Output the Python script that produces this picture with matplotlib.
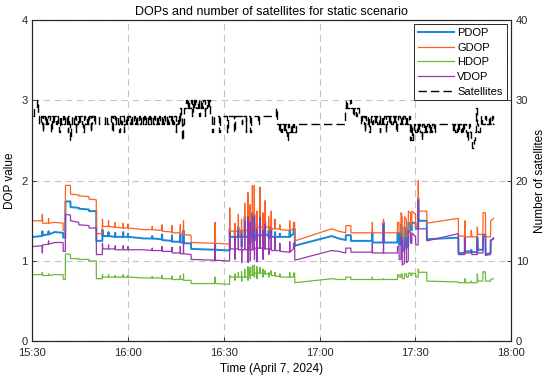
import matplotlib
matplotlib.use("Agg")
import matplotlib.pyplot as plt
import matplotlib.dates as mdates
import pandas as pd

plt.rcParams['font.family'] = ['Liberation Sans', 'DejaVu Sans']
plt.rcParams['font.size'] = 8

start = pd.Timestamp("2024-04-07 15:30")

# DOP samples: minutes after 15:30 and the four DOP values
dop_t = [0.3, 3.0, 3.1, 3.2, 5.0, 5.05, 5.1, 7.0, 9.6, 9.65,
         10.3, 10.35, 11.9, 11.95, 14.5, 14.55, 17.7, 17.75, 20.0, 20.05,
         21.9, 21.95, 22.05, 23.8, 23.85, 23.9, 25.9, 25.95, 26.0, 28.4,
         28.45, 28.5, 29.9, 29.95, 30.0, 35.0, 37.5, 37.55, 37.6, 40.6,
         40.65, 40.7, 43.7, 43.75, 43.8, 46.3, 46.35, 46.4, 47.3, 47.35,
         47.4, 49.7, 49.75, 57.2, 57.25, 57.3, 61.8, 61.85, 61.9, 63.4,
         63.45, 63.5, 63.55, 64.5, 64.55, 64.6, 65.5, 65.55, 65.6, 65.65,
         66.5, 66.55, 66.6, 67.5, 67.55, 67.6, 67.65, 68.2, 68.25, 68.3,
         68.35, 68.9, 68.95, 69.0, 69.5, 69.55, 69.6, 69.65, 70.3, 70.35,
         70.4, 70.45, 71.3, 71.35, 71.4, 72.2, 72.25, 72.3, 72.35, 72.9,
         72.95, 73.0, 74.0, 74.05, 74.1, 74.15, 74.8, 74.85, 74.9, 76.0,
         76.05, 76.1, 77.5, 77.55, 77.6, 80.6, 80.65, 80.7, 81.8, 81.85,
         82.2, 82.25, 93.8, 96.0, 98.2, 98.25, 99.8, 99.85, 106.5, 106.55,
         106.6, 110.0, 110.05, 110.1, 114.4, 114.45, 114.9, 114.95, 115.5, 115.55,
         115.9, 115.95, 116.6, 116.65, 117.2, 117.25, 117.8, 117.85, 118.5, 118.55,
         118.9, 118.95, 120.1, 120.15, 120.9, 120.95, 121.05, 123.6, 123.65, 133.5,
         133.55, 135.5, 135.55, 135.6, 137.5, 137.55, 137.8, 139.4, 139.45, 139.6,
         141.2, 141.25, 142.0, 142.05, 143.6, 143.65, 144.5]
gdop = [1.50, 1.50, 1.58, 1.47, 1.47, 1.53, 1.47, 1.48, 1.47, 1.38,
        1.38, 1.94, 1.94, 1.83, 1.82, 1.81, 1.80, 1.77, 1.76, 1.34,
        1.34, 1.52, 1.43, 1.43, 1.50, 1.43, 1.42, 1.48, 1.42, 1.41,
        1.47, 1.41, 1.41, 1.46, 1.41, 1.39, 1.39, 1.43, 1.39, 1.38,
        1.45, 1.37, 1.36, 1.44, 1.35, 1.35, 1.45, 1.34, 1.34, 1.50,
        1.33, 1.32, 1.23, 1.22, 1.48, 1.22, 1.21, 1.66, 1.37, 1.37,
        1.47, 1.30, 1.37, 1.37, 1.58, 1.38, 1.38, 1.52, 1.28, 1.38,
        1.38, 1.72, 1.38, 1.38, 1.85, 1.30, 1.40, 1.40, 1.70, 1.32,
        1.40, 1.40, 1.94, 1.40, 1.40, 1.94, 1.35, 1.42, 1.42, 1.62,
        1.33, 1.42, 1.42, 1.92, 1.42, 1.42, 1.60, 1.35, 1.42, 1.42,
        1.75, 1.42, 1.42, 1.55, 1.38, 1.42, 1.42, 1.62, 1.40, 1.40,
        1.52, 1.40, 1.40, 1.45, 1.39, 1.38, 1.50, 1.38, 1.40, 1.48,
        1.48, 1.25, 1.40, 1.37, 1.35, 1.44, 1.44, 1.35, 1.35, 1.48,
        1.35, 1.35, 1.52, 1.35, 1.35, 1.48, 1.48, 1.35, 1.35, 1.60,
        1.55, 1.28, 1.30, 1.55, 1.52, 1.30, 1.32, 1.62, 1.60, 1.45,
        1.45, 1.62, 1.58, 1.42, 1.42, 2.00, 1.62, 1.62, 1.47, 1.53,
        1.31, 1.31, 1.50, 1.30, 1.30, 1.38, 1.30, 1.30, 1.42, 1.33,
        1.33, 1.60, 1.60, 1.30, 1.30, 1.50, 1.53]
pdop = [1.30, 1.31, 1.37, 1.32, 1.33, 1.37, 1.33, 1.36, 1.35, 1.29,
        1.29, 1.74, 1.74, 1.67, 1.66, 1.65, 1.64, 1.62, 1.62, 1.25,
        1.25, 1.39, 1.31, 1.31, 1.36, 1.31, 1.30, 1.35, 1.30, 1.30,
        1.36, 1.30, 1.30, 1.34, 1.30, 1.28, 1.28, 1.31, 1.28, 1.27,
        1.33, 1.26, 1.25, 1.32, 1.24, 1.24, 1.33, 1.23, 1.23, 1.38,
        1.22, 1.22, 1.15, 1.14, 1.32, 1.14, 1.13, 1.40, 1.30, 1.30,
        1.40, 1.20, 1.30, 1.30, 1.42, 1.30, 1.30, 1.38, 1.18, 1.30,
        1.30, 1.55, 1.30, 1.30, 1.58, 1.20, 1.31, 1.31, 1.52, 1.22,
        1.31, 1.31, 1.60, 1.31, 1.31, 1.58, 1.25, 1.32, 1.32, 1.45,
        1.22, 1.32, 1.32, 1.57, 1.32, 1.32, 1.42, 1.25, 1.32, 1.32,
        1.50, 1.32, 1.32, 1.38, 1.28, 1.32, 1.32, 1.42, 1.30, 1.30,
        1.36, 1.30, 1.30, 1.34, 1.30, 1.30, 1.38, 1.30, 1.34, 1.40,
        1.40, 1.19, 1.31, 1.28, 1.26, 1.32, 1.32, 1.25, 1.25, 1.36,
        1.23, 1.23, 1.48, 1.23, 1.23, 1.35, 1.35, 1.20, 1.20, 1.45,
        1.42, 1.12, 1.14, 1.42, 1.40, 1.16, 1.18, 1.48, 1.45, 1.38,
        1.38, 1.48, 1.47, 1.40, 1.40, 1.78, 1.50, 1.50, 1.27, 1.29,
        1.10, 1.10, 1.30, 1.12, 1.12, 1.14, 1.11, 1.11, 1.30, 1.14,
        1.14, 1.33, 1.33, 1.08, 1.10, 1.25, 1.28]
hdop = [0.83, 0.83, 0.86, 0.82, 0.82, 0.84, 0.82, 0.83, 0.83, 0.77,
        0.77, 1.09, 1.08, 1.03, 1.03, 1.02, 1.02, 1.00, 1.00, 0.78,
        0.78, 0.83, 0.80, 0.80, 0.83, 0.80, 0.80, 0.82, 0.80, 0.80,
        0.83, 0.80, 0.80, 0.82, 0.80, 0.79, 0.79, 0.81, 0.79, 0.79,
        0.82, 0.78, 0.78, 0.81, 0.77, 0.77, 0.82, 0.77, 0.77, 0.84,
        0.76, 0.76, 0.72, 0.72, 0.80, 0.72, 0.71, 0.82, 0.80, 0.80,
        0.84, 0.76, 0.80, 0.80, 0.86, 0.80, 0.80, 0.87, 0.75, 0.80,
        0.80, 0.90, 0.80, 0.80, 0.93, 0.76, 0.82, 0.82, 0.92, 0.78,
        0.82, 0.82, 0.94, 0.82, 0.82, 0.95, 0.80, 0.85, 0.85, 0.93,
        0.78, 0.85, 0.85, 0.92, 0.85, 0.85, 0.90, 0.80, 0.84, 0.84,
        0.88, 0.84, 0.84, 0.86, 0.80, 0.84, 0.84, 0.88, 0.82, 0.82,
        0.86, 0.81, 0.81, 0.84, 0.80, 0.80, 0.86, 0.80, 0.80, 0.85,
        0.85, 0.73, 0.78, 0.77, 0.77, 0.80, 0.80, 0.77, 0.77, 0.80,
        0.77, 0.77, 0.78, 0.77, 0.77, 0.83, 0.83, 0.80, 0.80, 0.84,
        0.84, 0.78, 0.78, 0.84, 0.84, 0.80, 0.80, 0.85, 0.85, 0.82,
        0.82, 0.85, 0.84, 0.80, 0.80, 0.90, 0.86, 0.86, 0.75, 0.74,
        0.73, 0.73, 0.78, 0.73, 0.73, 0.75, 0.73, 0.73, 0.84, 0.75,
        0.75, 0.87, 0.86, 0.75, 0.75, 0.77, 0.78]
vdop = [1.18, 1.19, 1.10, 1.20, 1.21, 1.25, 1.21, 1.23, 1.23, 1.12,
        1.12, 1.58, 1.57, 1.50, 1.48, 1.45, 1.44, 1.41, 1.41, 1.08,
        1.08, 1.22, 1.15, 1.15, 1.20, 1.15, 1.15, 1.19, 1.14, 1.14,
        1.19, 1.14, 1.14, 1.18, 1.14, 1.14, 1.13, 1.16, 1.13, 1.13,
        1.18, 1.12, 1.12, 1.17, 1.10, 1.10, 1.18, 1.09, 1.09, 1.25,
        1.09, 1.08, 1.02, 1.01, 1.20, 1.01, 1.00, 1.36, 1.15, 1.15,
        1.30, 1.02, 1.15, 1.15, 1.38, 1.14, 1.14, 1.33, 0.98, 1.14,
        1.14, 1.50, 1.14, 1.14, 1.55, 0.98, 1.14, 1.14, 1.48, 1.00,
        1.14, 1.14, 1.56, 1.14, 1.14, 1.55, 1.02, 1.16, 1.16, 1.40,
        0.99, 1.16, 1.16, 1.54, 1.16, 1.16, 1.38, 1.02, 1.15, 1.15,
        1.46, 1.15, 1.15, 1.33, 1.08, 1.15, 1.15, 1.38, 1.13, 1.13,
        1.30, 1.13, 1.13, 1.22, 1.12, 1.11, 1.24, 1.11, 1.15, 1.22,
        1.22, 1.01, 1.13, 1.12, 1.10, 1.16, 1.16, 1.11, 1.11, 1.22,
        1.10, 1.10, 1.45, 1.10, 1.10, 1.18, 1.18, 1.02, 1.02, 1.30,
        1.25, 0.95, 0.97, 1.25, 1.22, 0.98, 1.00, 1.38, 1.35, 1.22,
        1.22, 1.35, 1.30, 1.20, 1.20, 1.75, 1.40, 1.40, 1.25, 1.34,
        1.08, 1.08, 1.28, 1.10, 1.10, 1.12, 1.08, 1.08, 1.28, 1.10,
        1.10, 1.31, 1.31, 1.07, 1.08, 1.26, 1.28]

# number of satellites (step changes), minutes after 15:30
sat_t = [0.3, 0.6, 1.3, 1.8, 2.2, 2.6, 3.0, 3.2, 3.4, 3.9, 4.3, 4.7, 5.0, 5.5, 5.8,
         6.0, 6.5, 6.9, 7.3, 7.6, 8.0, 8.4, 8.6, 9.1, 9.5, 9.9, 10.3, 10.7, 11.0, 11.2,
         11.6, 11.9, 12.1, 12.5, 12.9, 13.3, 13.6, 13.8, 14.2, 14.6, 15.0, 15.5, 15.9, 16.1, 16.6,
         17.0, 17.4, 17.8, 18.2, 18.4, 18.8, 19.2, 19.6, 20.3, 21.0, 22.6, 23.4, 24.6, 25.0, 25.3,
         25.9, 26.3, 26.7, 27.0, 27.3, 27.8, 28.2, 28.6, 28.8, 29.3, 29.7, 30.1, 30.5, 30.9, 31.3,
         31.7, 32.1, 32.5, 32.9, 33.3, 33.7, 34.1, 34.5, 34.9, 35.3, 35.7, 36.1, 36.5, 36.9, 37.3,
         37.7, 38.1, 38.5, 38.9, 39.3, 39.7, 40.1, 40.5, 40.9, 41.3, 41.7, 42.1, 42.5, 42.9, 43.3,
         43.7, 44.1, 44.5, 44.9, 45.1, 45.5, 45.9, 46.3, 46.6, 47.0, 47.2, 47.6, 48.0, 48.4, 48.8,
         49.2, 49.6, 50.0, 50.2, 50.6, 51.0, 51.4, 51.8, 52.2, 52.4, 52.8, 53.2, 53.6, 54.0, 54.2,
         54.6, 55.0, 55.4, 55.8, 56.2, 56.5, 57.0, 58.6, 58.8, 61.0, 61.2, 63.3, 63.5, 65.6, 65.8,
         66.8, 67.0, 68.3, 68.5, 70.8, 71.0, 76.5, 76.8, 77.2, 77.5, 77.9, 78.3, 78.7, 79.1, 79.5,
         79.9, 80.1, 80.5, 80.9, 81.3, 81.7, 82.1, 82.5, 98.0, 98.3, 98.6, 99.5, 99.8, 100.5, 100.8,
         101.5, 101.8, 102.5, 103.0, 103.4, 103.8, 104.1, 104.3, 104.7, 105.1, 105.5, 105.7, 106.1, 106.5, 106.9,
         107.3, 107.7, 108.1, 108.5, 108.9, 109.1, 109.5, 109.9, 110.3, 110.7, 110.9, 111.3, 111.7, 112.1, 112.5,
         112.9, 113.3, 113.7, 114.1, 114.3, 114.7, 115.1, 115.5, 115.9, 116.3, 116.7, 117.1, 117.5, 117.9, 118.4,
         118.7, 119.0, 119.3, 119.7, 120.0, 120.4, 120.8, 121.2, 121.6, 122.0, 122.2, 122.6, 123.0, 123.4, 123.8,
         124.2, 124.6, 125.0, 125.4, 125.8, 126.2, 131.8, 132.2, 132.6, 133.0, 133.4, 133.8, 134.2, 134.6, 135.0,
         135.4, 135.8, 136.2, 136.4, 136.8, 137.2, 137.6, 137.9, 138.4, 138.8, 139.0, 139.3, 139.8, 140.2, 140.7,
         141.0, 142.0, 142.3, 143.2, 143.5, 144.0, 144.3, 144.6]
sat_n = [28, 29, 30, 28, 27, 28, 27, 26, 28, 27, 28, 27, 28, 27, 26,
         28, 27, 28, 27, 28, 27, 26, 28, 27, 28, 27, 28, 27, 26, 28,
         27, 25, 27, 28, 27, 28, 26, 27, 28, 27, 28, 27, 26, 28, 27,
         28, 27, 28, 26, 27, 28, 27, 28, 28, 27, 28, 27, 28, 26, 28,
         27, 28, 27, 26, 28, 27, 28, 26, 27, 28, 27, 28, 27, 28, 27,
         28, 27, 28, 27, 28, 27, 28, 27, 28, 27, 28, 27, 28, 27, 28,
         27, 28, 27, 28, 27, 28, 27, 28, 27, 28, 27, 28, 27, 28, 27,
         28, 27, 28, 26, 27, 28, 27, 29, 28, 25, 27, 29, 30, 29, 30,
         29, 30, 28, 30, 29, 30, 29, 30, 28, 29, 30, 29, 30, 28, 29,
         30, 29, 30, 28, 26, 27, 28, 26, 28, 26, 28, 26, 28, 27, 28,
         26, 28, 26, 28, 27, 28, 29, 27, 26, 27, 26, 27, 26, 27, 26,
         25, 27, 26, 27, 26, 27, 26, 27, 29, 30, 29, 30, 29, 28, 29,
         28, 29, 28, 27, 28, 27, 26, 28, 27, 28, 26, 27, 28, 27, 28,
         27, 28, 27, 28, 26, 27, 28, 27, 28, 26, 27, 28, 27, 28, 27,
         28, 27, 28, 26, 27, 28, 27, 28, 27, 28, 27, 28, 27, 28, 25,
         27, 25, 26, 27, 26, 27, 26, 27, 26, 25, 27, 26, 27, 26, 27,
         26, 27, 26, 27, 26, 27, 26, 27, 26, 27, 26, 27, 26, 27, 26,
         27, 26, 25, 26, 27, 26, 25, 24, 25, 26, 29, 27, 26, 27, 28,
         27, 28, 27, 28, 27, 28, 27, 27]

assert len(dop_t) == len(gdop) == len(pdop) == len(hdop) == len(vdop)
assert len(sat_t) == len(sat_n)

dop_time = start + pd.to_timedelta(dop_t, unit="min")
sat_time = start + pd.to_timedelta(sat_t, unit="min")

fig = plt.figure(figsize=(5.5, 3.81), dpi=100)
ax = fig.add_axes([0.059, 0.1037, 0.870, 0.845])
ax2 = ax.twinx()

l1, = ax.plot(dop_time, pdop, color='#1a86d6', lw=1.4, label='PDOP')
l2, = ax.plot(dop_time, gdop, color='#ff5f1f', lw=0.9, label='GDOP')
l3, = ax.plot(dop_time, hdop, color='#6cba3a', lw=0.9, label='HDOP')
l4, = ax.plot(dop_time, vdop, color='#9a36ae', lw=0.9, label='VDOP')
l5, = ax2.plot(sat_time, sat_n, color='black', lw=1.0, ls=(0, (6, 3)),
               drawstyle='steps-post', label='Satellites')

ax.set_xlim(start, start + pd.Timedelta(minutes=150))
ax.set_ylim(0, 4)
ax2.set_ylim(0, 40)
ax.set_yticks([0, 1, 2, 3, 4])
ax2.set_yticks([0, 10, 20, 30, 40])
ax.xaxis.set_major_locator(mdates.MinuteLocator(byminute=[0, 30]))
ax.xaxis.set_major_formatter(mdates.DateFormatter('%H:%M'))

ax.grid(True, color='#c4c4c4', ls=(0, (6, 4)), lw=0.8)
for a in (ax, ax2):
    a.tick_params(direction='in', length=3, width=0.6, colors='#262626', labelsize=8)
    for s in a.spines.values():
        s.set_color('#262626')
        s.set_linewidth(0.8)
ax.tick_params(axis='x', pad=5)

ax.set_title('DOPs and number of satellites for static scenario', fontsize=9, pad=3)
ax.set_xlabel('Time (April 7, 2024)', fontsize=8.5, labelpad=3)
ax.set_ylabel('DOP value', fontsize=8.5, labelpad=4)
ax2.set_ylabel('Number of satellites', fontsize=8.5, labelpad=4)

leg = ax2.legend(handles=[l1, l2, l3, l4, l5], loc='upper right', fontsize=8,
                 fancybox=False, edgecolor='#262626', framealpha=1,
                 handlelength=3.2, labelspacing=0.42, borderpad=0.35,
                 handletextpad=0.3, borderaxespad=0.4)
leg.get_frame().set_linewidth(0.7)

fig.savefig('out.png', dpi=100)
